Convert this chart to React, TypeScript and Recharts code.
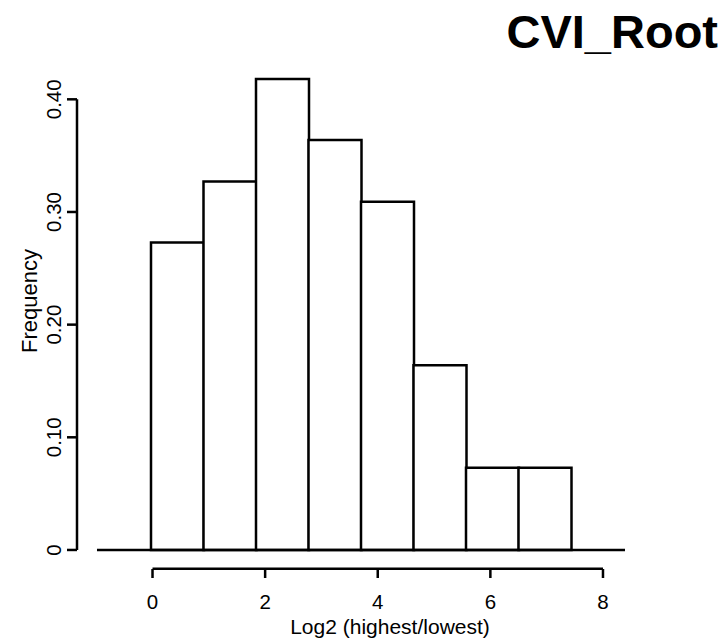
import { BarChart, Bar, XAxis, YAxis, ReferenceLine } from 'recharts'

// histogram bins (breaks) and density per bin
const binEdges = [-0.03, 0.9, 1.84, 2.77, 3.7, 4.63, 5.57, 6.5, 7.43]
const density = [0.273, 0.327, 0.418, 0.364, 0.309, 0.164, 0.073, 0.073]
const xTicks = [0, 2, 4, 6, 8]
const yTicks = [0, 0.1, 0.2, 0.3, 0.4]

const title = 'CVI_Root'
const xLabel = 'Log2 (highest/lowest)'
const yLabel = 'Frequency'

const rows = density.map((d, i) => ({
  bin: `${binEdges[i]}–${binEdges[i + 1]}`,
  mid: (binEdges[i] + binEdges[i + 1]) / 2,
  density: d,
}))

// plot window in data units (R style: axes stand off the data region)
const X_DOMAIN: [number, number] = [-1.341, 8.391]
const Y_DOMAIN: [number, number] = [-0.0169, 0.4349]
const BASELINE_FROM = -0.986
// a hair inside the domain edge, otherwise the segment gets dropped
const X_AXIS_AT = Y_DOMAIN[0] + 0.0003

const FONT = '"Liberation Sans", Arial, Helvetica, sans-serif'
const LW = 2.5

const XTick = ({ x, y, payload }: any) => (
  <text x={x} y={y} dy={29} textAnchor="middle" fontSize={20.5} fontFamily={FONT} fill="#000">{payload.value}</text>
)

const YTick = ({ x, y, payload }: any) => {
  const lx = x - 4
  const label = payload.value === 0 ? '0' : Number(payload.value).toFixed(2)
  return (
    <text x={lx} y={y} transform={`rotate(-90, ${lx}, ${y})`} textAnchor="middle" fontSize={20.5} fontFamily={FONT} fill="#000">{label}</text>
  )
}

export default function App() {
  return (
    <div style={{ position: 'absolute', left: 0, top: 0, width: 727, height: 641, background: '#fff' }}>
      <BarChart width={727} height={641} data={rows} margin={{ top: 60, right: 102, bottom: 32, left: 17 }} barCategoryGap={0}>
        <XAxis xAxisId="num" dataKey="mid" type="number" domain={X_DOMAIN} allowDataOverflow ticks={xTicks} interval={0} height={40}
          axisLine={false} tickLine={{ stroke: '#000', strokeWidth: LW }} tickSize={9} tick={<XTick />} />
        <XAxis xAxisId="bins" dataKey="bin" type="category" hide height={0} padding={{ left: 74, right: 54 }} />
        <YAxis type="number" domain={Y_DOMAIN} allowDataOverflow ticks={yTicks} interval={0} width={60}
          axisLine={false} tickLine={{ stroke: '#000', strokeWidth: LW }} tickSize={10} tick={<YTick />} />
        <Bar xAxisId="bins" dataKey="density" fill="#fff" stroke="#000" strokeWidth={LW} isAnimationActive={false} />
        {/* baseline at 0 */}
        <ReferenceLine xAxisId="num" ifOverflow="visible" stroke="#000" strokeWidth={LW}
          segment={[{ x: BASELINE_FROM, y: 0 }, { x: X_DOMAIN[1], y: 0 }]} />
        {/* x axis line spans only the tick range */}
        <ReferenceLine xAxisId="num" ifOverflow="visible" stroke="#000" strokeWidth={LW}
          segment={[{ x: xTicks[0], y: X_AXIS_AT }, { x: xTicks[xTicks.length - 1], y: X_AXIS_AT }]} />
        {/* y axis line spans only the tick range */}
        <ReferenceLine xAxisId="num" ifOverflow="visible" stroke="#000" strokeWidth={LW}
          segment={[{ x: X_DOMAIN[0], y: yTicks[0] }, { x: X_DOMAIN[0], y: yTicks[yTicks.length - 1] }]} />
      </BarChart>
      <svg width={727} height={641} style={{ position: 'absolute', left: 0, top: 0, pointerEvents: 'none' }}>
        <text x={718} y={48} textAnchor="end" fontSize={47} fontWeight="bold" fontFamily={FONT} fill="#000">{title}</text>
        <text x={390} y={634} textAnchor="middle" fontSize={21} fontFamily={FONT} fill="#000">{xLabel}</text>
        <text x={37} y={301} transform="rotate(-90, 37, 301)" textAnchor="middle" fontSize={22} fontFamily={FONT} fill="#000">{yLabel}</text>
      </svg>
    </div>
  )
}
